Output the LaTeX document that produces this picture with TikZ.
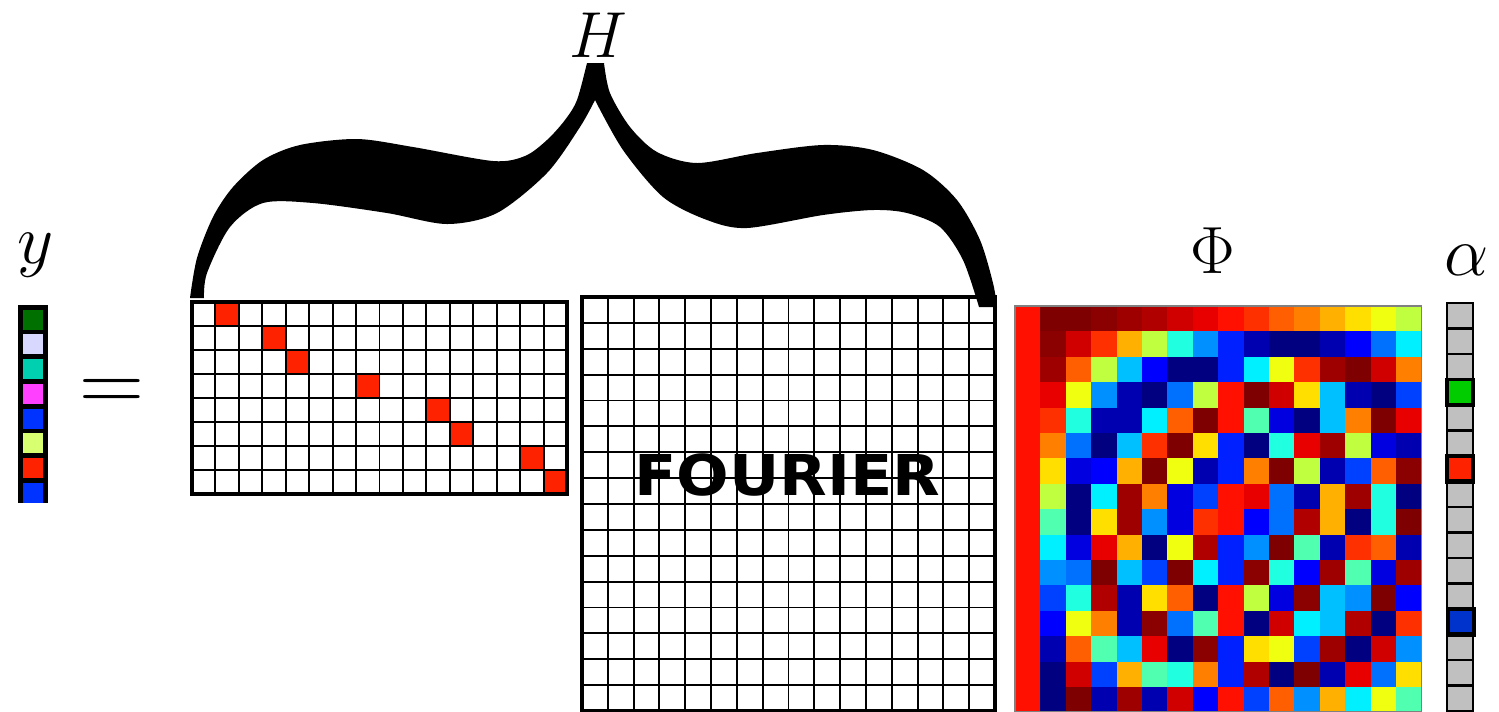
\RequirePackage{fix-cm}
\documentclass[tikz,border=0pt]{standalone}
\usepackage{fontspec}
\newfontfamily\fouriersans{DejaVu Sans}[FakeStretch=1.1]
%colours of y and alpha
\definecolor{ygreen}{HTML}{007000}
\definecolor{ylav}{HTML}{D8D8FF}
\definecolor{yteal}{HTML}{00D0B0}
\definecolor{ymag}{HTML}{FF40FF}
\definecolor{yblue}{HTML}{0033FF}
\definecolor{ylime}{HTML}{D8FF70}
\definecolor{sred}{HTML}{FF2200}
\definecolor{agray}{HTML}{C0C0C0}
\definecolor{agreen}{HTML}{00CC00}
\definecolor{ablue}{HTML}{0033CC}
%jet colours of Phi
\definecolor{ja}{HTML}{000080}
\definecolor{jb}{HTML}{0000B0}
\definecolor{jc}{HTML}{0000E0}
\definecolor{jd}{HTML}{0000FF}
\definecolor{je}{HTML}{0020FF}
\definecolor{jf}{HTML}{0040FF}
\definecolor{jg}{HTML}{0070FF}
\definecolor{jh}{HTML}{0090FF}
\definecolor{ji}{HTML}{00C0FF}
\definecolor{jj}{HTML}{00F0FF}
\definecolor{jk}{HTML}{20FFE0}
\definecolor{jl}{HTML}{50FFB0}
\definecolor{jm}{HTML}{C0FF40}
\definecolor{jn}{HTML}{F0FF10}
\definecolor{jo}{HTML}{FFDF00}
\definecolor{jp}{HTML}{FFB000}
\definecolor{jq}{HTML}{FF8000}
\definecolor{jr}{HTML}{FF5F00}
\definecolor{js}{HTML}{FF3000}
\definecolor{jt}{HTML}{FF1000}
\definecolor{ju}{HTML}{E80000}
\definecolor{jv}{HTML}{D00000}
\definecolor{jw}{HTML}{B00000}
\definecolor{jx}{HTML}{9E0000}
\definecolor{jy}{HTML}{8B0000}
\definecolor{jz}{HTML}{7F0000}
\tikzset{
    gridline/.style={line width=0.55pt},
    matframe/.style={line width=1.3pt},
    lab/.style={anchor=base,font=\fontsize{20}{24}\selectfont},
}
\begin{document}
\begin{tikzpicture}
    [x=0.01cm,y=-0.01cm]
    \useasboundingbox (0,0) rectangle (1499,711);
    %vector y
    \fill (18,305) rectangle (48,503);
    \foreach \col [count=\k from 0] in {ygreen,ylav,yteal,ymag,yblue,ylime,sred,yblue}
        \fill[\col] (23,{309.5+\k*24.75}) rectangle ++(20,20);
    \node[lab] (ylab) at (36,263) {$y$};
    %equals
    \node[anchor=base,font=\fontsize{25.6}{30}\selectfont] (eq) at (112,411) {$=$};
    %sampling matrix
    \foreach \c [count=\r from 0] in {1,3,4,7,10,11,14,15}
        \fill[sred] ({192+\c*23.4375},{302+\r*24}) rectangle ++(23.4375,24);
    \foreach \i in {1,...,15}
        \draw[gridline] ({192+\i*23.4375},302) -- ++(0,192);
    \foreach \j in {1,...,7}
        \draw[gridline] (192,{302+\j*24}) -- ++(375,0);
    \draw[matframe] (192,302) rectangle (567,494);
    %fourier matrix
    \foreach \i in {1,...,15}
        \draw[gridline] ({582+\i*25.8125},297) -- ++(0,414);
    \foreach \j in {1,...,15}
        \draw[gridline] (582,{297+\j*25.875}) -- ++(413,0);
    \draw[matframe] (582,297) rectangle (995,711);
    \node[anchor=base,font=\fouriersans\bfseries\fontsize{16}{19}\selectfont] (fourier) at (787.5,495) {FOURIER};
    %dictionary Phi
    \foreach \row [count=\r from 0] in {
        {t,z,z,y,x,w,v,u,t,s,r,q,p,o,n,m},
        {t,y,v,s,p,m,k,h,e,b,a,a,b,d,g,j},
        {t,x,r,m,i,d,a,a,e,j,n,s,x,z,v,q},
        {t,u,n,h,b,a,g,m,t,z,v,o,i,b,a,f},
        {t,s,k,b,b,j,r,z,t,l,c,a,i,q,z,u},
        {t,q,g,a,i,s,z,o,e,a,k,u,x,m,c,b},
        {t,o,c,d,p,z,n,b,e,q,z,m,b,f,r,y},
        {t,m,a,j,x,q,c,f,t,u,g,b,p,x,k,a},
        {t,l,a,o,x,h,c,s,t,d,g,w,p,a,k,z},
        {t,j,c,u,p,a,n,w,e,h,z,l,b,s,r,b},
        {t,h,g,z,i,f,z,j,e,y,k,d,x,l,c,x},
        {t,f,k,w,b,o,r,a,t,m,c,y,i,h,z,d},
        {t,d,n,q,b,y,g,l,t,a,v,j,i,w,a,s},
        {t,b,r,l,i,u,a,y,e,o,n,f,x,a,v,h},
        {t,a,v,f,p,l,k,q,e,w,a,z,b,u,g,o},
        {t,a,z,b,x,b,v,d,t,f,r,h,p,j,n,l}}
        \foreach \c [count=\k from 0] in \row
            \fill[j\c] ({1015+\k*25.4},{306+\r*25.4}) rectangle ++(25.4,25.4);
    \draw[gray,line width=0.4pt] (1015,306) rectangle (1421.4,711.4);
    \node[lab,font=\fontsize{19}{23}\selectfont] (philab) at (1213,273) {$\Phi$};
    %coefficients alpha
    \foreach \j in {0,...,15}
        \draw[fill=agray,line width=0.6pt] (1447,{303+\j*25.5}) rectangle ++(26,25.5);
    \draw[fill=agreen,line width=0.9pt] (1447,{303+3*25.5}) rectangle ++(26,25.5);
    \draw[fill=sred,line width=1.3pt] (1447,{303+6*25.5}) rectangle ++(26,25.5);
    \draw[fill=ablue,line width=1.3pt] (1448,{303+12*25.5}) rectangle ++(26,25.5);
    \node[lab] (alphalab) at (1467,275) {$\alpha$};
    %brace
    \fill plot[smooth] coordinates {(190,298) (197,258) (213,217) (233,187) (263,160) (300,145) (357,139) (413,147) (493,161) (525,156) (547,140) (565,120) (577,100) (587,63)}
        -- plot[smooth] coordinates {(604,63) (610,93) (630,127) (657,152) (697,163) (757,153) (823,145) (873,150) (923,170) (957,200) (980,240) (993,283) (997,307)}
        -- plot[smooth] coordinates {(979,307) (963,260) (940,227) (907,213) (873,210) (823,215) (747,228) (707,220) (663,197) (623,150) (595,100)}
        -- plot[smooth] coordinates {(595,100) (580,127) (547,173) (497,213) (447,224) (387,213) (313,203) (263,203) (230,227) (207,273) (204,298)}
        -- cycle;
    \node[lab,font=\fontsize{18.5}{22}\selectfont] (Hlab) at (598,57) {$H$};
\end{tikzpicture}
\end{document}
